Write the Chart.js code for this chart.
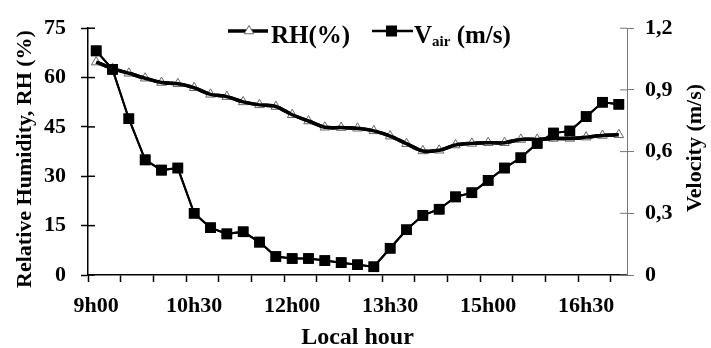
<!DOCTYPE html>
<html>
<head>
<meta charset="utf-8">
<script src="https://cdn.jsdelivr.net/npm/chart.js@4.4.1/dist/chart.umd.min.js"></script>
<style>
html, body { margin: 0; padding: 0; background: #fff; }
#wrap { width: 711px; height: 348px; position: relative; }
</style>
</head>
<body>
<div id="wrap"><canvas id="chart"></canvas></div>
<script>
// Readings every 15 minutes, 9h00 -> 17h00
const hours = [
    "9h00", "9h15", "9h30", "9h45", "10h00", "10h15", "10h30", "10h45",
    "11h00", "11h15", "11h30", "11h45", "12h00", "12h15", "12h30", "12h45",
    "13h00", "13h15", "13h30", "13h45", "14h00", "14h15", "14h30", "14h45",
    "15h00", "15h15", "15h30", "15h45", "16h00", "16h15", "16h30", "16h45",
    "17h00"
];
const shownHours = ["9h00", "10h30", "12h00", "13h30", "15h00", "16h30"];

const rhValues = [
    64.7, 62.7, 61.3, 59.8, 58.5, 58.1, 56.9, 54.9, 54.2, 52.6, 51.7,
    51.2, 48.7, 46.8, 44.9, 44.8, 44.6, 43.8, 42.2, 39.9, 37.7, 37.9,
    39.5, 40.0, 40.2, 40.2, 41.2, 41.2, 41.5, 41.5, 41.9, 42.4, 42.6
];
const airSpeed = [
    1.09, 1.00, 0.76, 0.56, 0.51, 0.52, 0.30, 0.23, 0.20, 0.21, 0.16,
    0.09, 0.08, 0.08, 0.07, 0.06, 0.05, 0.04, 0.13, 0.22, 0.29, 0.32,
    0.38, 0.40, 0.46, 0.52, 0.57, 0.64, 0.69, 0.70, 0.77, 0.84, 0.83
];

const serif = "'Liberation Serif', 'Times New Roman', serif";
Chart.defaults.font.family = serif;
Chart.defaults.font.weight = "bold";
Chart.defaults.font.size = 22;
Chart.defaults.color = "#000";

// axis titles, legend, inner tick halves and the RH line redrawn above its markers
const extras = {
    id: "extras",
    afterDatasetsDraw(chart) {
        const ctx = chart.ctx;
        const area = chart.chartArea;
        ctx.save();
        ctx.beginPath();
        ctx.rect(area.left, area.top - 10, area.right - area.left, area.bottom - area.top + 20);
        ctx.clip();
        chart.getDatasetMeta(1).dataset.draw(ctx, area);
        ctx.restore();
        chart.getDatasetMeta(0).controller.draw();
    },
    afterDraw(chart) {
        const ctx = chart.ctx;
        const area = chart.chartArea;
        const yl = chart.scales.y, yr = chart.scales.y1;
        ctx.save();

        ctx.lineWidth = 1.5;
        ctx.strokeStyle = "#000";
        yl.ticks.forEach(t => {
            const p = yl.getPixelForValue(t.value);
            ctx.beginPath(); ctx.moveTo(area.left, p); ctx.lineTo(area.left + 7, p); ctx.stroke();
        });
        ctx.lineWidth = 1;
        ctx.strokeStyle = "#777";
        yr.ticks.forEach(t => {
            const p = yr.getPixelForValue(t.value);
            ctx.beginPath(); ctx.moveTo(area.right - 7, p); ctx.lineTo(area.right, p); ctx.stroke();
        });

        ctx.fillStyle = "#000";
        ctx.font = "bold 22px " + serif;
        ctx.textAlign = "center";
        ctx.textBaseline = "middle";
        ctx.save();
        ctx.translate(25, 159);
        ctx.rotate(-Math.PI / 2);
        ctx.fillText("Relative Humidity, RH (%)", 0, 0);
        ctx.restore();
        ctx.save();
        ctx.translate(695, 148);
        ctx.rotate(-Math.PI / 2);
        ctx.fillText("Velocity (m/s)", 0, 0);
        ctx.restore();

        // legend
        const ly = 31;
        ctx.strokeStyle = "#000";
        ctx.lineWidth = 3.5;
        ctx.beginPath(); ctx.moveTo(228, ly); ctx.lineTo(268, ly); ctx.stroke();
        ctx.fillStyle = "#fff";
        ctx.strokeStyle = "#666";
        ctx.lineWidth = 1;
        ctx.beginPath();
        ctx.moveTo(249, ly - 5.5);
        ctx.lineTo(249 + 4.76, ly + 2.75);
        ctx.lineTo(249 - 4.76, ly + 2.75);
        ctx.closePath();
        ctx.fill(); ctx.stroke();

        ctx.strokeStyle = "#000";
        ctx.lineWidth = 2.5;
        ctx.beginPath(); ctx.moveTo(372, ly); ctx.lineTo(413, ly); ctx.stroke();
        ctx.fillStyle = "#000";
        ctx.fillRect(386, ly - 5.5, 11, 11);

        ctx.textAlign = "left";
        ctx.textBaseline = "alphabetic";
        ctx.font = "bold 25px " + serif;
        ctx.fillText("RH(%)", 271, 43);
        ctx.fillText("V", 414, 43);
        let x = 414 + ctx.measureText("V").width;
        ctx.font = "bold 15px " + serif;
        ctx.fillText("air", x, 46);
        x += ctx.measureText("air").width;
        ctx.font = "bold 25px " + serif;
        ctx.fillText(" (m/s)", x, 43);
        ctx.restore();
    }
};

new Chart(document.getElementById("chart"), {
    type: "line",
    data: {
        labels: hours,
        datasets: [
            {
                label: "Vair (m/s)",
                data: airSpeed,
                yAxisID: "y1",
                borderColor: "#000",
                borderWidth: 2,
                pointStyle: "rect",
                pointRadius: 7.5,
                pointBackgroundColor: "#000",
                pointBorderColor: "#000",
                pointBorderWidth: 0,
                order: 0
            },
            {
                label: "RH(%)",
                data: rhValues,
                yAxisID: "y",
                borderColor: "#000",
                borderWidth: 3.5,
                tension: 0.3,
                pointStyle: "triangle",
                pointRadius: 5.5,
                pointBackgroundColor: "#fff",
                pointBorderColor: "#666",
                pointBorderWidth: 1,
                order: 1
            }
        ]
    },
    options: {
        responsive: true,
        maintainAspectRatio: false,
        animation: false,
        layout: { padding: { top: 20, left: 0, right: 0, bottom: 0 } },
        plugins: {
            legend: { display: false },
            tooltip: { enabled: false }
        },
        scales: {
            x: {
                type: "category",
                offset: true,
                grid: {
                    offset: true,
                    drawOnChartArea: false,
                    tickLength: 7,
                    tickWidth: 1.5,
                    tickColor: (c) => (c.index % 2 === 0 ? "#000" : "rgba(0,0,0,0)")
                },
                border: { color: "#000", width: 1.5 },
                ticks: {
                    autoSkip: false,
                    maxRotation: 0,
                    padding: 11,
                    callback: (v, i) => (shownHours.includes(hours[i]) ? hours[i] : "")
                },
                title: {
                    display: true,
                    text: "Local hour",
                    font: { size: 24, lineHeight: 0.83 },
                    padding: { top: 0, bottom: 0 }
                },
                afterFit: (s) => { s.height = 73; }
            },
            y: {
                position: "left",
                min: 0,
                max: 75,
                ticks: { stepSize: 15, padding: 15 },
                grid: { drawOnChartArea: false, tickLength: 7, tickWidth: 1.5, tickColor: "#000" },
                border: { color: "#000", width: 1.5 },
                afterFit: (s) => { s.width = 88; }
            },
            y1: {
                position: "right",
                min: 0,
                max: 1.2,
                ticks: {
                    stepSize: 0.3,
                    padding: 11,
                    callback: (v) => (v === 0 ? "0" : v.toFixed(1).replace(".", ","))
                },
                grid: { drawOnChartArea: false, tickLength: 7, tickWidth: 1, tickColor: "#777" },
                border: { color: "#777", width: 1 },
                afterFit: (s) => { s.width = 84; }
            }
        }
    },
    plugins: [extras]
});
</script>
</body>
</html>
